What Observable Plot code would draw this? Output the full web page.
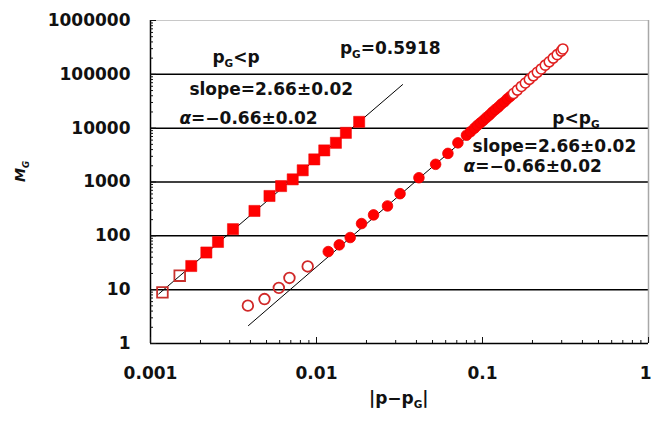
<!DOCTYPE html>
<html><head><meta charset="utf-8">
<script src="https://cdn.jsdelivr.net/npm/d3@7"></script>
<script src="https://cdn.jsdelivr.net/npm/@observablehq/plot@0.6"></script>
<style>body{margin:0;background:#fff}</style>
</head><body><div id="chart"></div>
<script>
// ---- data ----
const xTicks = [0.001, 0.01, 0.1, 1];
const xTickLabels = ["0.001", "0.01", "0.1", "1"];
const yTicks = [1, 10, 100, 1000, 10000, 100000, 1000000];
const yTickLabels = ["1", "10", "100", "1000", "10000", "100000", "1000000"];
const gridY = [10, 100, 1000, 10000, 100000];

// p_G < p  (squares)
const leftOpenX = [0.00118, 0.0015];
const leftOpenY = [8.9, 18.2];
const leftFilledX = [0.00176, 0.00217, 0.00255, 0.00314, 0.00423, 0.00521, 0.00612, 0.00719, 0.00826, 0.0097, 0.01114, 0.01309, 0.01503, 0.01807];
const leftFilledY = [27.5, 49, 77, 133, 290, 550, 840, 1120, 1650, 2630, 3860, 5340, 8180, 13100];

// p < p_G  (circles)
const rightOpenLowX = [0.00386, 0.00486, 0.00593, 0.00687, 0.00885];
const rightOpenLowY = [5.05, 6.7, 10.8, 16.5, 27];
const rightFilledX = [0.01177, 0.01371, 0.01596, 0.01868, 0.02206, 0.02677, 0.03187, 0.0414, 0.0522, 0.0619, 0.0711,
  0.0801, 0.0847, 0.0895, 0.0933, 0.0973, 0.1014, 0.1057, 0.1102, 0.1148, 0.1197, 0.1248, 0.1300, 0.1356, 0.1413, 0.1473];
const rightFilledY = [51, 68, 93, 169, 245, 359, 607, 1200, 2130, 3400, 5340,
  7400, 8600, 10000, 11300, 12600, 14000, 15800, 17600, 19900, 22300, 24800, 28000, 31000, 35200, 39000];
const rightOpenHighX = [0.1536, 0.1622, 0.1714, 0.1811, 0.1914, 0.2023, 0.2138, 0.2259, 0.2388, 0.2523, 0.2667, 0.2818, 0.2979, 0.305];
const rightOpenHighY = [44000, 51000, 59500, 69000, 80500, 94000, 109000, 126000, 148000, 171000, 200000, 232000, 270000, 296000];

// fitted lines (end points)
const fitLeftX = [0.00112, 0.033];
const fitLeftY = [8.3, 64400];
const fitRightX = [0.00389, 0.29];
const fitRightY = [2.15, 206000];

const notes = [
  {t: "p_G<p", x: 0.00236, y: 206500},
  {t: "p_G=0.5918", x: 0.01384, y: 303000},
  {t: "slope=2.66±0.02", x: 0.001715, y: 52700},
  {t: "α=−0.66±0.02", x: 0.001493, y: 15310},
  {t: "p<p_G", x: 0.2633, y: 15310},
  {t: "slope=2.66±0.02", x: 0.0871, y: 4642},
  {t: "α=−0.66±0.02", x: 0.0769, y: 1978}
];

const pts = (xs, ys) => xs.map((x, i) => ({x, y: ys[i]}));
const mult = [2, 3, 4, 5, 6, 7, 8, 9];
const xMinor = [-3, -2, -1].flatMap(e => mult.map(m => m * Math.pow(10, e)));
const yMinor = [0, 1, 2, 3, 4, 5].flatMap(e => mult.map(m => m * Math.pow(10, e)));

const chart = Plot.plot({
  width: 651, height: 423,
  marginLeft: 150, marginRight: 3, marginTop: 20, marginBottom: 80,
  x: {type: "log", domain: [0.001, 1]},
  y: {type: "log", domain: [1, 1000000]},
  style: {fontFamily: "DejaVu Sans", fontWeight: "bold", fontSize: "17px", color: "#111", background: "#fff", overflow: "visible"},
  marks: [
    Plot.ruleY(gridY, {stroke: "#000", strokeWidth: 1.5}),
    Plot.ruleY([1000000], {stroke: "#c8c8c8", strokeWidth: 1}),
    Plot.ruleX([1], {stroke: "#a8a8a8", strokeWidth: 1.5}),
    Plot.ruleX([0.001], {stroke: "#000", strokeWidth: 1.5}),
    Plot.ruleY([1], {stroke: "#000", strokeWidth: 1.5}),
    Plot.axisY(yTicks, {tickSize: -6, tickPadding: 26, fontSize: 17, label: null,
      tickFormat: d => yTickLabels[yTicks.indexOf(d)]}),
    Plot.axisY(yMinor, {tickSize: -3, fill: "none", label: null}),
    Plot.axisX(xTicks, {tickSize: -6, tickPadding: 29, fontSize: 17, label: null,
      tickFormat: d => xTickLabels[xTicks.indexOf(d)]}),
    Plot.axisX(xMinor, {tickSize: -3, fill: "none", label: null}),
    Plot.line(pts(fitLeftX, fitLeftY), {x: "x", y: "y", stroke: "#000", strokeWidth: 1}),
    Plot.line(pts(fitRightX, fitRightY), {x: "x", y: "y", stroke: "#000", strokeWidth: 1}),
    Plot.dot(pts(leftOpenX, leftOpenY), {x: "x", y: "y", symbol: "square", r: 6, fill: "none", stroke: "#c8302c", strokeWidth: 1.8}),
    Plot.dot(pts(leftFilledX, leftFilledY), {x: "x", y: "y", symbol: "square", r: 6.3, fill: "#ff0000", stroke: "#ee0000", strokeWidth: 0.5}),
    Plot.dot(pts(rightOpenLowX, rightOpenLowY), {x: "x", y: "y", r: 5.3, fill: "none", stroke: "#d02828", strokeWidth: 1.8}),
    Plot.dot(pts(rightFilledX, rightFilledY), {x: "x", y: "y", r: 5.3, fill: "#ff0000", stroke: "#f00000", strokeWidth: 0.8}),
    Plot.dot(pts(rightOpenHighX, rightOpenHighY), {x: "x", y: "y", r: 5, fill: "#fff", stroke: "#e02020", strokeWidth: 1.6}),
    Plot.text(notes, {x: "x", y: "y", text: "t", textAnchor: "start", fontSize: 17, fontWeight: "bold", fill: "#111"}),
    Plot.text(["|p−p_G|"], {frameAnchor: "bottom", x: 0.0313, dy: 60, fontSize: 17, fontWeight: "bold", fill: "#111"}),
    Plot.text(["M_G"], {frameAnchor: "left", dx: -130, rotate: -90, fontSize: 14, fontWeight: "bold", fontStyle: "italic", fill: "#111"})
  ]
});

// subscripts and italic alpha as tspans
chart.querySelectorAll("text").forEach(t => {
  const s = t.textContent;
  if (!s.includes("_") && !s.includes("α")) return;
  t.textContent = "";
  let i = 0, shifted = false;
  while (i < s.length) {
    const ts = document.createElementNS("http://www.w3.org/2000/svg", "tspan");
    if (s[i] === "_") {
      ts.textContent = s[i + 1];
      ts.setAttribute("font-size", "0.62em");
      ts.setAttribute("dy", "4");
      shifted = true;
      i += 2;
    } else if (s[i] === "α") {
      ts.textContent = "α";
      ts.setAttribute("font-style", "italic");
      if (shifted) { ts.setAttribute("dy", "-4"); shifted = false; }
      i += 1;
    } else {
      let j = i;
      while (j < s.length && s[j] !== "_" && s[j] !== "α") j++;
      ts.textContent = s.slice(i, j);
      if (shifted) { ts.setAttribute("dy", "-4"); shifted = false; }
      i = j;
    }
    t.appendChild(ts);
  }
});

// keep the last x tick label ("1") inside the picture
chart.querySelectorAll("g[aria-label='x-axis tick label'] text").forEach(t => {
  if (t.textContent === xTickLabels[xTickLabels.length - 1]) {
    t.setAttribute("text-anchor", "end");
    t.setAttribute("dx", "3");
  }
});

document.getElementById("chart").appendChild(chart);
</script>
</body></html>
